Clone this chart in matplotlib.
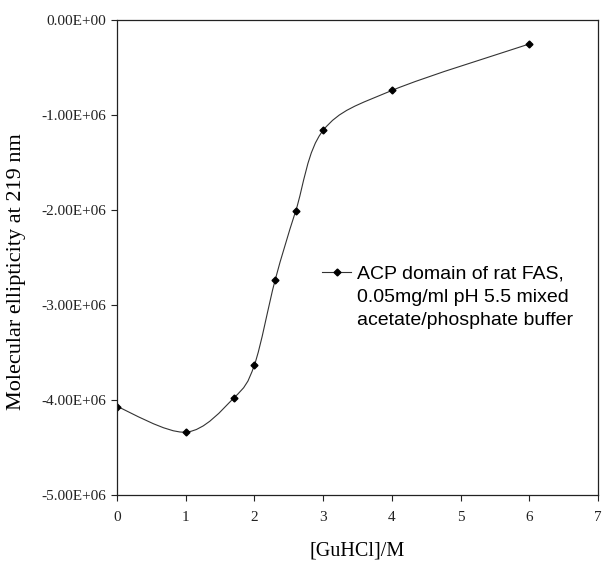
import matplotlib
matplotlib.use("Agg")
import matplotlib.pyplot as plt
import numpy as np
from matplotlib.path import Path
from matplotlib.patches import PathPatch
from matplotlib.lines import Line2D
from matplotlib.ticker import FuncFormatter

# data
guhcl = [0.0, 1.0, 1.7, 2.0, 2.3, 2.6, 3.0, 4.0, 6.0]
ellipticity = [-4.07e6, -4.34e6, -3.98e6, -3.63e6, -2.74e6, -2.01e6, -1.16e6, -0.74e6, -0.25e6]
labelLines = ["ACP domain of rat FAS,", "0.05mg/ml pH 5.5 mixed", "acetate/phosphate buffer"]
xTicks = [0, 1, 2, 3, 4, 5, 6, 7]
yTicks = [0.0, -1e6, -2e6, -3e6, -4e6, -5e6]


def _smoothPath(x, y):
    # Excel-like smoothed line: cubic bezier with catmull-rom tangents
    pts = np.column_stack([x, y])
    n = len(pts)
    verts = [pts[0]]
    codes = [Path.MOVETO]
    for i in range(n - 1):
        p0 = pts[max(i - 1, 0)]
        p1 = pts[i]
        p2 = pts[i + 1]
        p3 = pts[min(i + 2, n - 1)]
        c1 = p1 + (p2 - p0) / 6.0
        c2 = p2 - (p3 - p1) / 6.0
        verts += [c1, c2, p2]
        codes += [Path.CURVE4] * 3
    return Path(verts, codes)


def _sciFmt(v, pos):
    return f"{v:.2E}"


fig = plt.figure(figsize=(6.03, 5.61), dpi=100)
ax = fig.add_axes([0.194, 0.118, 0.798, 0.846])

ax.add_patch(PathPatch(_smoothPath(guhcl, ellipticity), facecolor="none", edgecolor="#333333", linewidth=0.8))
ax.plot(guhcl, ellipticity, linestyle="none", marker="D", markersize=3.5, color="black")

ax.set_xlim(0, 7)
ax.set_ylim(-5e6, 0)
ax.set_xticks(xTicks)
ax.set_yticks(yTicks)
ax.yaxis.set_major_formatter(FuncFormatter(_sciFmt))
for lab in ax.get_xticklabels() + ax.get_yticklabels():
    lab.set_fontfamily("Liberation Serif")
    lab.set_fontsize(11)
    lab.set_color("#222222")
ax.tick_params(direction="out", length=4, width=0.8, colors="#222222")
ax.tick_params(axis="x", pad=8)
ax.tick_params(axis="y", pad=4)
for sp in ax.spines.values():
    sp.set_linewidth(0.9)
    sp.set_color("#222222")

ax.set_xlabel("[GuHCl]/M", fontfamily="Liberation Serif", fontsize=14.5, labelpad=12)
ax.set_ylabel("Molecular ellipticity at 219 nm", fontfamily="Liberation Serif", fontsize=16, labelpad=8)
ax.yaxis.set_label_coords(-0.19, 0.47)

handle = Line2D([], [], color="#333333", linewidth=0.8, marker="D", markersize=3.5,
                markerfacecolor="black", markeredgecolor="black")
legFont = {"family": "Liberation Sans", "size": 14}
leg = ax.legend([handle], [labelLines[0]], loc="center left", bbox_to_anchor=(0.426, 0.465),
                frameon=False, handlelength=1.5, handletextpad=0.3, borderpad=0,
                borderaxespad=0, prop=legFont)

# the rest of the wrapped label sits under the first line, aligned to its start
fig.canvas.draw()
firstText = leg.get_texts()[0]
bx, by = firstText.get_transform().transform(firstText.get_position())
for k, line in enumerate(labelLines[1:], start=1):
    fig.text(bx, by - 23 * k, line, transform=None, va="baseline", ha="left",
             fontfamily=legFont["family"], fontsize=legFont["size"])

fig.savefig("out.png", dpi=100)
